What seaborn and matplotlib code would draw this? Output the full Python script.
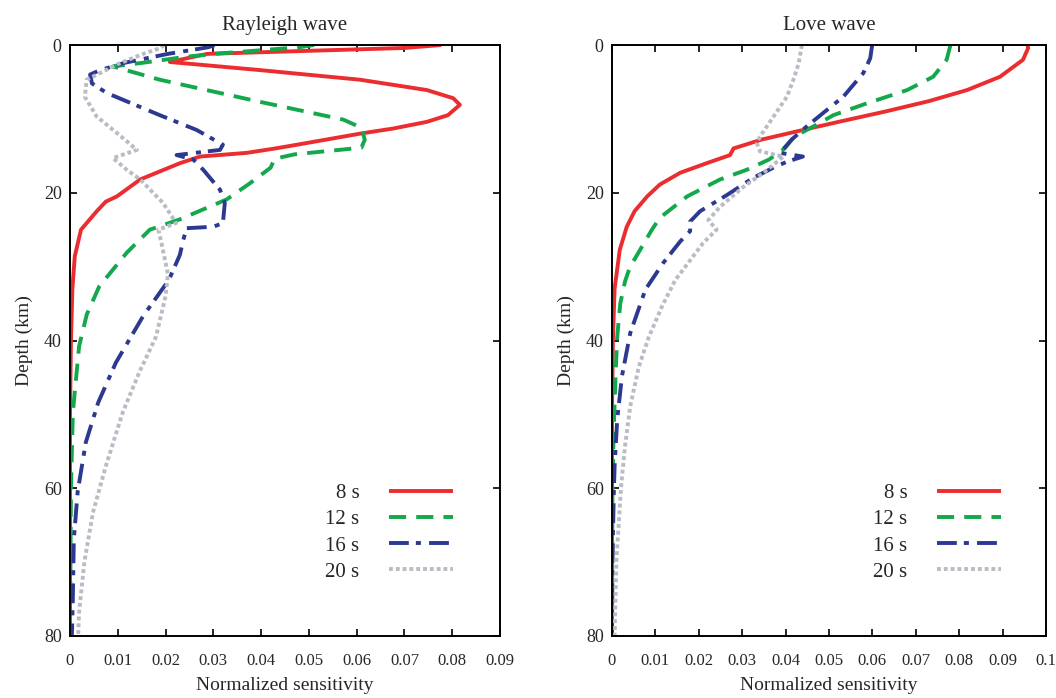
import numpy as np
import pandas as pd
import seaborn as sns
import matplotlib
matplotlib.use("Agg")
import matplotlib.pyplot as plt

# ---- data (x = normalized sensitivity, depth in km) ----
periods = ["8 s", "12 s", "16 s", "20 s"]

ray_8s_depth = [0, 0.4, 1.2, 2.3, 3.4, 4.7, 6.1, 7.2, 8.1, 9.5, 10.4, 11.3, 12.0, 13.5, 14.0, 14.6,
                15.1, 16.0, 18.2, 20.5, 21.2, 22.5, 25.0, 28.6, 33.0, 40, 50, 80]
ray_8s = [0.0777, 0.0700, 0.0287, 0.0209, 0.0398, 0.0607, 0.0747, 0.0802, 0.0816, 0.0791, 0.0747, 0.0677,
          0.0607, 0.0475, 0.0430, 0.0370, 0.0272, 0.0230, 0.0147, 0.0098, 0.0075, 0.0056, 0.0023, 0.0010,
          0.0005, 0.0002, 0.0, 0.0]

ray_12s_depth = [0, 0.3, 1.2, 1.6, 2.4, 2.9, 4.7, 7.7, 10.1, 11.2, 12.8, 13.9, 14.8, 15.4, 16.6, 18.7,
                 20.9, 23.6, 25.0, 28.1, 32.7, 36.5, 40.8, 49.7, 60, 80]
ray_12s = [0.0511, 0.0480, 0.0302, 0.0242, 0.0153, 0.0090, 0.0188, 0.0398, 0.0572, 0.0610, 0.0617, 0.0610,
           0.0470, 0.0428, 0.0420, 0.0377, 0.0328, 0.0230, 0.0167, 0.0119, 0.0061, 0.0035, 0.0019, 0.0006,
           0.0002, 0.0]

ray_16s_depth = [0, 0.3, 1.2, 2.4, 3.4, 4.0, 5.2, 6.5, 9.5, 11.5, 13.5, 14.2, 14.9, 15.5, 16.9, 19.6,
                 21.4, 24.1, 24.6, 24.8, 26.4, 28.4, 31.8, 36.7, 43.0, 48.4, 53.8, 60.5, 66.9, 74.6, 80]
ray_16s = [0.0302, 0.0290, 0.0205, 0.0115, 0.0063, 0.0042, 0.0046, 0.0077, 0.0188, 0.0265, 0.0320, 0.0314,
           0.0223, 0.0258, 0.0279, 0.0314, 0.0324, 0.0320, 0.0300, 0.0244, 0.0237, 0.0230, 0.0207, 0.0153,
           0.0096, 0.0059, 0.0033, 0.0016, 0.0008, 0.0006, 0.0004]

ray_20s_depth = [0, 0.4, 1.2, 2.6, 4.7, 7.0, 9.7, 11.9, 14.2, 15.3, 16.9, 18.2, 21.4, 24.1, 25.0, 27.0,
                 31.0, 34.0, 39.5, 44.3, 49.8, 57.0, 63.3, 70.0, 76.8, 80]
ray_20s = [0.0197, 0.0190, 0.0153, 0.0100, 0.0035, 0.0031, 0.0056, 0.0098, 0.0140, 0.0090, 0.0119, 0.0147,
           0.0195, 0.0222, 0.0185, 0.0192, 0.0205, 0.0200, 0.0180, 0.0145, 0.0110, 0.0075, 0.0048, 0.0030,
           0.0019, 0.0017]

love_8s_depth = [0, 0.4, 2.0, 4.3, 6.1, 7.6, 9.0, 10.3, 11.5, 12.8, 14.0, 14.9, 16.0, 17.3, 18.9, 20.5,
                 22.5, 24.6, 27.7, 33.0, 40, 50, 80]
love_8s = [0.0957, 0.0959, 0.0947, 0.0894, 0.0818, 0.0730, 0.0630, 0.0530, 0.0440, 0.0345, 0.0280, 0.0272,
           0.0218, 0.0157, 0.0110, 0.0081, 0.0052, 0.0034, 0.0018, 0.0006, 0.0002, 0.0, 0.0]

love_12s_depth = [0, 0.2, 2.0, 4.3, 6.1, 7.9, 9.5, 11.0, 12.4, 14.0, 15.5, 16.9, 18.2, 20.5, 23.4, 25.0,
                  27.7, 30.1, 32.0, 35.0, 39.5, 45, 52, 60, 80]
love_12s = [0.0779, 0.0779, 0.0771, 0.0740, 0.0680, 0.0587, 0.0510, 0.0465, 0.0420, 0.0398, 0.0362, 0.0310,
            0.0249, 0.0173, 0.0110, 0.0092, 0.0065, 0.0041, 0.0030, 0.0019, 0.0012, 0.0008, 0.0004, 0.0001, 0.0]

love_16s_depth = [0, 0.2, 1.8, 3.8, 7.0, 8.8, 11.0, 12.8, 14.6, 15.1, 15.8, 16.6, 18.0, 20.3, 22.5, 23.9,
                  25.2, 26.6, 29.5, 33.1, 39.0, 44.8, 50.7, 57.0, 61, 70, 80]
love_16s = [0.0599, 0.0599, 0.0595, 0.0579, 0.0533, 0.0495, 0.0449, 0.0414, 0.0387, 0.0440, 0.0403, 0.0372,
            0.0325, 0.0265, 0.0203, 0.0180, 0.0180, 0.0157, 0.0118, 0.0077, 0.0042, 0.0023, 0.0012, 0.0006,
            0.0004, 0.0001, 0.0]

love_20s_depth = [0, 0.2, 2.5, 4.7, 7.0, 9.7, 12.4, 13.3, 14.4, 15.1, 17.3, 19.2, 21.9, 23.7, 25.0, 26.8,
                  29.7, 31.8, 35.4, 39.5, 43.5, 48.9, 54.3, 59.7, 70, 80]
love_20s = [0.0437, 0.0437, 0.0430, 0.0418, 0.0403, 0.0372, 0.0341, 0.0334, 0.0341, 0.0395, 0.0349, 0.0303,
            0.0249, 0.0222, 0.0241, 0.0210, 0.0173, 0.0146, 0.0115, 0.0085, 0.0062, 0.0042, 0.0030, 0.0021,
            0.0010, 0.0006]

depth_ticks = [0, 20, 40, 60, 80]
ray_xticks = [0, 0.01, 0.02, 0.03, 0.04, 0.05, 0.06, 0.07, 0.08, 0.09]
ray_xticklabels = ["0", "0.01", "0.02", "0.03", "0.04", "0.05", "0.06", "0.07", "0.08", "0.09"]
love_xticks = [0, 0.01, 0.02, 0.03, 0.04, 0.05, 0.06, 0.07, 0.08, 0.09, 0.1]
love_xticklabels = ["0", "0.01", "0.02", "0.03", "0.04", "0.05", "0.06", "0.07", "0.08", "0.09", "0.1"]

# ---- styles ----
colors = ["#ec2d2f", "#12a84b", "#2b3990", "#b9bcc4"]
styles = ["-", (0, (4.4, 2.6)), (0, (5.1, 1.8, 1.3, 2.1)), (0, (1.0, 0.75))]
LW = 2.8

sns.set_style("ticks")
plt.rcParams['font.family'] = ['Liberation Serif', 'DejaVu Serif']
plt.rcParams['lines.solid_capstyle'] = 'butt'
plt.rcParams['lines.dash_capstyle'] = 'butt'

fig = plt.figure(figsize=(10.56, 6.98), dpi=100)
ax1 = fig.add_axes([70 / 1056, 62 / 698, 430 / 1056, 591 / 698])
ax2 = fig.add_axes([612 / 1056, 62 / 698, 434 / 1056, 591 / 698])


def draw_panel(ax, curves, title, xticks, xticklabels, xmax, legend_anchor):
    for (xs, ds), lab, c, ls in zip(curves, periods, colors, styles):
        df = pd.DataFrame({"sens": xs, "depth": ds})
        sns.lineplot(data=df, x="sens", y="depth", ax=ax, sort=False, estimator=None,
                     color=c, linewidth=LW, linestyle=ls, label=lab)
    ax.set_xlim(0, xmax)
    ax.set_ylim(80, 0)
    ax.set_xticks(xticks)
    ax.set_xticklabels(xticklabels, fontsize=12)
    ax.set_yticks(depth_ticks)
    ax.set_yticklabels([str(t) for t in depth_ticks], fontsize=13)
    ax.tick_params(direction="in", length=5, width=1.2, top=True, right=True, color="black")
    ax.tick_params(axis="x", pad=12)
    ax.tick_params(axis="y", pad=6)
    for s in ax.spines.values():
        s.set_linewidth(1.4)
        s.set_color("black")
    ax.set_title(title, fontsize=15, pad=11)
    ax.set_xlabel("Normalized sensitivity", fontsize=14, labelpad=6)
    ax.set_ylabel("Depth (km)", fontsize=14, labelpad=8)
    ax.legend(loc="lower right", bbox_to_anchor=legend_anchor, frameon=False, markerfirst=False,
              fontsize=15, handlelength=3.1, handletextpad=1.4, labelspacing=0.32)


draw_panel(ax1, [(ray_8s, ray_8s_depth), (ray_12s, ray_12s_depth), (ray_16s, ray_16s_depth),
                 (ray_20s, ray_20s_depth)],
           "Rayleigh wave", ray_xticks, ray_xticklabels, 0.09, (0.935, 0.06))
draw_panel(ax2, [(love_8s, love_8s_depth), (love_12s, love_12s_depth), (love_16s, love_16s_depth),
                 (love_20s, love_20s_depth)],
           "Love wave", love_xticks, love_xticklabels, 0.1, (0.94, 0.06))

fig.savefig("out.png", dpi=100)
